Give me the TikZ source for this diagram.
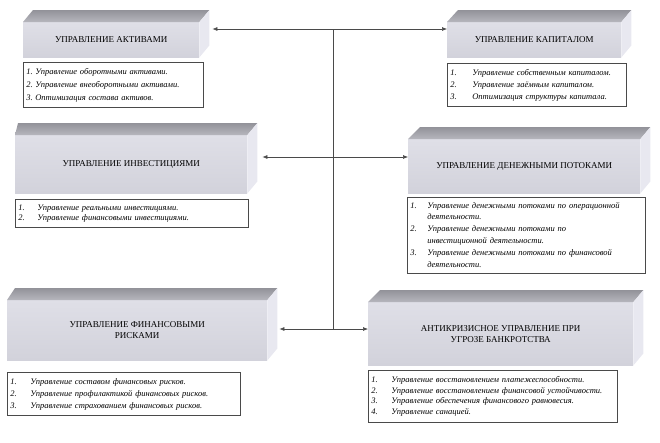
\documentclass[tikz,border=0pt]{standalone}
\usepackage{fontspec}
\setmainfont{Liberation Serif}
\usepackage{tikz}
\usetikzlibrary{arrows.meta, calc}

\definecolor{frontTop}{HTML}{DFDFE7}
\definecolor{frontBot}{HTML}{D2D2DB}
\definecolor{topDark}{HTML}{929299}
\definecolor{topLight}{HTML}{B6B6BD}
\definecolor{sideFace}{HTML}{E8E8F0}
\definecolor{lineGray}{HTML}{4A4A4A}

\newlength\pntw
\newenvironment{pnts}[1]{\setlength\pntw{#1}\begin{tabular}{@{}p{\pntw}@{}l@{}}}{\end{tabular}}

\tikzset{
  front/.style={anchor=north west, top color=frontTop, bottom color=frontBot,
    align=center, inner sep=2pt, font=\fontsize{9}{11}\selectfont},
  topface/.style={top color=topDark, bottom color=topLight},
  sideface/.style={fill=sideFace},
  lst/.style={anchor=north west, draw=lineGray, line width=0.6pt, fill=white,
    inner xsep=3pt, inner ysep=1pt, align=left,
    font=\fontsize{8.5}{#1}\selectfont\itshape},
  lst/.default=12,
  conn/.style={draw=lineGray, line width=0.6pt},
  link/.style={conn, -{Latex[length=5pt,width=4pt]}}
}

\begin{document}
\begin{tikzpicture}[x=1pt, y=-1pt]
  \useasboundingbox (0,0) rectangle (660,442);

  % front faces of the blocks
  \node[front, minimum width=176pt, minimum height=35pt] (akt) at (23,22) {УПРАВЛЕНИЕ АКТИВАМИ};
  \node[front, minimum width=174pt, minimum height=35pt] (kap) at (447,22) {УПРАВЛЕНИЕ КАПИТАЛОМ};
  \node[front, minimum width=232pt, minimum height=58pt] (inv) at (15,135) {УПРАВЛЕНИЕ ИНВЕСТИЦИЯМИ};
  \node[front, minimum width=232pt, minimum height=54pt] (den) at (408,139) {УПРАВЛЕНИЕ ДЕНЕЖНЫМИ ПОТОКАМИ};
  \node[front, minimum width=260pt, minimum height=60pt] (risk) at (7,300) {УПРАВЛЕНИЕ ФИНАНСОВЫМИ\\РИСКАМИ};
  \node[front, minimum width=265pt, minimum height=63pt] (krz) at (368,302) {АНТИКРИЗИСНОЕ УПРАВЛЕНИЕ ПРИ\\УГРОЗЕ БАНКРОТСТВА};

  % top and side faces
  \foreach \n/\dl in {akt/10, kap/11, inv/3, den/12, risk/8, krz/12} {
    \shade[topface] (\n.north west) -- ++(\dl,-12) -- ($(\n.north east)+(10,-12)$)
      -- (\n.north east) -- cycle;
    \fill[sideface] (\n.north east) -- ++(10,-12) -- ($(\n.south east)+(10,-12)$)
      -- (\n.south east) -- cycle;
  }

  % lists
  \node[lst=13, minimum width=180pt, minimum height=45pt, text width=174pt] (aktL) at (23,62)
    {\begin{pnts}{9pt}
     1. & Управление оборотными активами.\\
     2. & Управление внеоборотными активами.\\
     3. & Оптимизация состава активов.
     \end{pnts}};
  \node[lst, minimum width=179pt, minimum height=43pt, text width=173pt] (kapL) at (447,63)
    {\begin{pnts}{22pt}
     1. & Управление собственным капиталом.\\
     2. & Управление заёмным капиталом.\\
     3. & Оптимизация структуры капитала.
     \end{pnts}};
  \node[lst=10.5, minimum width=233pt, minimum height=28pt, text width=227pt] (invL) at (15,199)
    {\begin{pnts}{19pt}
     1. & Управление реальными инвестициями.\\
     2. & Управление финансовыми инвестициями.
     \end{pnts}};
  \node[lst=11.8, minimum width=238pt, minimum height=76pt, text width=232pt] (denL) at (407,197)
    {\begin{pnts}{17pt}
     1. & Управление денежными потоками по операционной\\
        & деятельности.\\
     2. & Управление денежными потоками по\\
        & инвестиционной деятельности.\\
     3. & Управление денежными потоками по финансовой\\
        & деятельности.
     \end{pnts}};
  \node[lst=12, minimum width=233pt, minimum height=43pt, text width=227pt] (riskL) at (7,372)
    {\begin{pnts}{20pt}
     1. & Управление составом финансовых рисков.\\
     2. & Управление профилактикой финансовых рисков.\\
     3. & Управление страхованием финансовых рисков.
     \end{pnts}};
  \node[lst=10.5, minimum width=249pt, minimum height=52pt, text width=243pt] (krzL) at (368,370)
    {\begin{pnts}{20pt}
     1. & Управление восстановлением платежеспособности.\\
     2. & Управление восстановлением финансовой устойчивости.\\
     3. & Управление обеспечения финансового равновесия.\\
     4. & Управление санацией.
     \end{pnts}};

  % connectors
  \coordinate (hubA) at (333,29);
  \coordinate (hubB) at (333,157);
  \coordinate (hubC) at (333,329);
  \draw[conn] (hubA) -- (hubC);
  \draw[link] (hubA) -- ($(hubA -| akt.east)+(13,0)$);
  \draw[link] (hubA) -- (hubA -| kap.west);
  \draw[link] (hubB) -- ($(hubB -| inv.east)+(15,0)$);
  \draw[link] (hubB) -- (hubB -| den.west);
  \draw[link] (hubC) -- ($(hubC -| risk.east)+(12,0)$);
  \draw[link] (hubC) -- (hubC -| krz.west);
\end{tikzpicture}
\end{document}
